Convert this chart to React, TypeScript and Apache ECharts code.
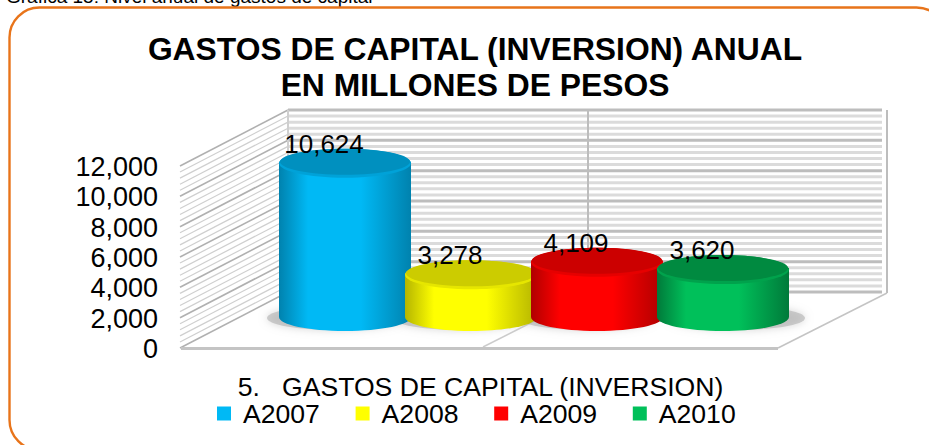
import React, { useEffect, useRef } from "react";
import * as echarts from "echarts";

const titleLines = ["GASTOS DE CAPITAL (INVERSION) ANUAL", "EN MILLONES DE PESOS"];
const seriesNames = ["A2007", "A2008", "A2009", "A2010"];
const values = [10624, 3278, 4109, 3620];
const valueLabels = ["10,624", "3,278", "4,109", "3,620"];
const colorsLight = ["#00b9f5", "#ffff00", "#ff0000", "#00c05a"];
const colorsDark = ["#0082ae", "#b5b500", "#b00000", "#007a3a"];
const colorsTop = ["#0090bf", "#cccc00", "#cc0000", "#008a40"];
const colorsRim = ["#00a2d8", "#e6e600", "#e60000", "#00a24c"];
const gridValues = Array.from({ length: 31 }, (_, i) => i * 400);
const categoryName = "5.   GASTOS DE CAPITAL (INVERSION)";
const caption = "Gráfica 15: Nivel anual de gastos de capital";
const FONT = "Liberation Sans, Arial, sans-serif";
const DX = 105;
const DY = -57;

export default function App() {
  const ref = useRef<HTMLDivElement>(null);
  useEffect(() => {
    const chart = echarts.init(ref.current!, undefined, { renderer: "svg" });
    const wall = (params: any, api: any) => {
      const v = gridValues[params.dataIndex];
      const y = api.coord([0, v])[1];
      const x0 = api.coord([0, v])[0] - api.size([1, 0])[0] / 2;
      const x1 = x0 + 595;
      const major = v % 2000 === 0;
      return {
        type: "group",
        children: [
          {
            type: "line",
            shape: { x1: x0 - 3, y1: y - 1, x2: x0 + DX, y2: y + DY },
            style: { stroke: major ? "#b0b0b0" : "#cfcfcf", lineWidth: major ? 1.6 : 1.2 },
            silent: true,
          },
          {
            type: "line",
            shape: { x1: x0 + DX, y1: y + DY, x2: x1 + DX - 1, y2: y + DY },
            style: { stroke: major ? "#bdbdbd" : "#dbdbdb", lineWidth: 3 },
            silent: true,
          },
        ],
      };
    };
    const cylinder = (k: number, api: any) => {
      const cx = api.coord([k, 0])[0];
      const topY = api.coord([k, values[k]])[1];
      const baseY = api.coord([k, 393])[1];
      const rx = 66;
      const ry = 14;
      const grad = new echarts.graphic.LinearGradient(0, 0, 1, 0, [
        { offset: 0, color: colorsDark[k] },
        { offset: 0.22, color: colorsLight[k] },
        { offset: 0.62, color: colorsLight[k] },
        { offset: 1, color: colorsDark[k] },
      ]);
      return {
        type: "group",
        children: [
          {
            type: "rect",
            shape: { x: cx - rx, y: topY, width: rx * 2, height: baseY - topY },
            style: { fill: grad },
          },
          {
            type: "ellipse",
            shape: { cx, cy: baseY, rx, ry },
            style: { fill: grad },
          },
          {
            type: "ellipse",
            shape: { cx, cy: topY + 1.5, rx, ry: ry + 0.5 },
            style: { fill: colorsRim[k] },
          },
          {
            type: "ellipse",
            shape: { cx, cy: topY, rx: rx - 1, ry: ry - 1 },
            style: { fill: colorsTop[k] },
          },
          {
            type: "text",
            x: cx - 21,
            y: topY - 18,
            style: {
              text: valueLabels[k],
              font: `26px ${FONT}`,
              fill: "#000",
              align: "center",
              verticalAlign: "middle",
            },
          },
        ],
      };
    };
    const shadow = (params: any, api: any) => {
      const i = params.dataIndex;
      const cx = api.coord([i, 0])[0];
      const baseY = api.coord([i, 393])[1];
      return {
        type: "ellipse",
        shape: { cx: cx + (i === 3 ? 14 : -10), cy: baseY + 1, rx: 68, ry: 12 },
        style: { fill: "#b0b0b0", opacity: 0.6, shadowBlur: 8, shadowColor: "#bbb" },
      };
    };
    const option: any = {
      animation: false,
      backgroundColor: "#fff",
      grid: [
        { left: 183, top: 167, width: 595, height: 182 },
        { left: 282, top: 141, width: 504, height: 182 },
      ],
      xAxis: [
        {
          gridIndex: 0,
          type: "category",
          data: ["", ""],
          axisLine: { show: false },
          axisTick: { show: false },
          axisLabel: { show: false },
          name: categoryName,
          nameLocation: "middle",
          nameGap: 26,
          nameTextStyle: { fontFamily: FONT, fontSize: 26.6, color: "#000", lineHeight: 24 },
        },
        {
          gridIndex: 1,
          type: "category",
          data: seriesNames,
          axisLine: { show: false },
          axisTick: { show: false },
          axisLabel: { show: false },
        },
      ],
      yAxis: [
        {
          gridIndex: 0,
          type: "value",
          min: 0,
          max: 12000,
          interval: 2000,
          axisLine: { show: false },
          axisTick: { show: false },
          splitLine: { show: false },
          axisLabel: {
            margin: 25,
            fontFamily: FONT,
            fontSize: 27,
            color: "#000",
            formatter: (v: number) => v.toLocaleString("en-US"),
          },
        },
        {
          gridIndex: 1,
          type: "value",
          min: 0,
          max: 12000,
          show: false,
        },
      ],
      legend: {
        data: seriesNames.map((name, i) => ({ name, itemStyle: { color: colorsLight[i] } })),
        left: 212,
        top: 395,
        itemWidth: 14,
        itemHeight: 14,
        itemGap: 35.7,
        icon: "rect",
        textStyle: { fontFamily: FONT, fontSize: 26.6, color: "#000", lineHeight: 24, padding: [0, 0, 0, 7] },
      },
      graphic: [
        {
          type: "text",
          x: 6,
          y: -13,
          style: { text: caption, font: `19px ${FONT}`, fill: "#000" },
          z: 10,
        },
        {
          type: "rect",
          shape: { x: 9.5, y: 7.5, width: 937, height: 442.5, r: 30 },
          style: { fill: "none", stroke: "#e8741a", lineWidth: 2.4 },
          z: 10,
        },
        {
          type: "text",
          x: 475,
          y: 33,
          style: { text: titleLines[0], font: `bold 31.8px ${FONT}`, fill: "#000", align: "center" },
          z: 10,
        },
        {
          type: "text",
          x: 475,
          y: 69,
          style: { text: titleLines[1], font: `bold 31.8px ${FONT}`, fill: "#000", align: "center" },
          z: 10,
        },
        { type: "line", shape: { x1: 887, y1: 110, x2: 887, y2: 293 }, style: { stroke: "#bdbdbd", lineWidth: 2 }, z: 1 },
        { type: "line", shape: { x1: 288, y1: 110, x2: 288, y2: 293 }, style: { stroke: "#cfcfcf", lineWidth: 2 }, z: 1 },
        { type: "line", shape: { x1: 588, y1: 110, x2: 588, y2: 293 }, style: { stroke: "#bdbdbd", lineWidth: 2 }, z: 1 },
        { type: "line", shape: { x1: 483, y1: 347, x2: 560, y2: 308 }, style: { stroke: "#cccccc", lineWidth: 1.5 }, z: 1 },
        { type: "line", shape: { x1: 778, y1: 348, x2: 887, y2: 293 }, style: { stroke: "#c4c4c4", lineWidth: 1.5 }, z: 1 },
        { type: "line", shape: { x1: 181, y1: 348.5, x2: 778, y2: 348.5 }, style: { stroke: "#c4c4c4", lineWidth: 3 }, z: 1 },
      ],
      series: [
        {
          type: "custom",
          name: "wall",
          xAxisIndex: 0,
          yAxisIndex: 0,
          renderItem: wall,
          clip: false,
          silent: true,
          z: 0,
          data: gridValues.map((v) => [0, v]),
          encode: { x: 0, y: 1 },
        },
        {
          type: "custom",
          name: "shadow",
          xAxisIndex: 1,
          yAxisIndex: 1,
          renderItem: shadow,
          clip: false,
          silent: true,
          z: 2,
          data: values.map((v, i) => [i, v]),
          encode: { x: 0, y: 1 },
        },
        ...seriesNames.map((name, k) => ({
          type: "custom",
          name,
          xAxisIndex: 1,
          yAxisIndex: 1,
          itemStyle: { color: colorsLight[k] },
          clip: false,
          z: 3 + k,
          renderItem: (_params: any, api: any) => cylinder(k, api),
          data: [[k, values[k]]],
          encode: { x: 0, y: 1 },
        })),
      ],
    };
    chart.setOption(option);
    return () => chart.dispose();
  }, []);
  return <div ref={ref} style={{ position: "fixed", left: 0, top: 0, width: 929, height: 445 }} />;
}
